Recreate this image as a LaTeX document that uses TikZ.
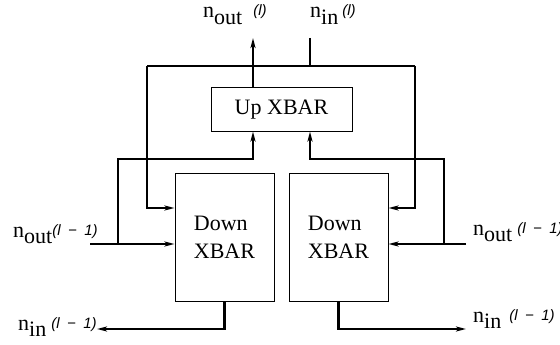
\documentclass[tikz,border=0pt]{standalone}
\usepackage{fontspec}
\setmainfont{Liberation Serif}
\newfontfamily\supfont{Liberation Sans}
\usetikzlibrary{arrows.meta,positioning,calc}
\newcommand{\nlab}[3]{n\raisebox{-6.5pt}{#1}\hspace{#3}\raisebox{2pt}{\fontsize{15}{15}\supfont\itshape #2}}
\tikzset{
  >={Stealth[length=10pt,width=5pt,inset=2.5pt]},
  font=\fontsize{22}{28}\selectfont,
  xbar/.style  ={draw, line width=1pt, inner sep=0pt, align=left},
  upbox/.style ={xbar, minimum width=141pt, minimum height=43pt},
  dnbox/.style ={xbar, minimum width=99pt, minimum height=128pt},
  wire/.style  ={line width=2.8pt},
  awire/.style ={wire, ->},
  lab/.style   ={anchor=base west, inner sep=0pt},
}
\begin{document}
\begin{tikzpicture}[x=1pt,y=-1pt]
  \useasboundingbox (0,0) rectangle (560,345);
  \node[upbox] (up) at (281.5,109.5) {Up XBAR};
  \node[dnbox] (dl) at (224.5,237) {Down\\XBAR};
  \node[dnbox] (dr) at (338.5,237) {Down\\XBAR};
  % free ends and corners of the wires
  \coordinate (outtop) at (253,38);
  \coordinate (intop) at (310,38);
  \coordinate (busL) at (147,66);
  \coordinate (busR) at (415,66);
  \coordinate (feedL) at (118,159);
  \coordinate (feedR) at (444,159);
  \coordinate (outL) at (90,244);
  \coordinate (outR) at (466,244);
  \coordinate (inL) at (97,329);
  \coordinate (inR) at (466,329);
  % labels
  \node[lab] (louttop) at (203,18) {\nlab{out}{(l)}{11pt}};
  \node[lab] (lintop) at (310,18) {\nlab{in}{(l)}{4pt}};
  \node[lab] (loutL) at (13,237) {\nlab{out}{(l\enspace−\enspace1)}{0pt}};
  \node[lab] (loutR) at (473,235) {\nlab{out}{(l\enspace−\enspace1)}{5pt}};
  \node[lab] (linL) at (18,330) {\nlab{in}{(l\enspace−\enspace1)}{5pt}};
  \node[lab] (linR) at (473,322) {\nlab{in}{(l\enspace−\enspace1)}{8pt}};
  % wires
  \draw[awire] (up.north -| outtop) -- (outtop);
  \draw[wire] (intop) -- (intop |- busL);
  \draw[wire] (busL) -- (busR);
  \draw[awire] (busL) |- ([yshift=29pt]dl.west);
  \draw[awire] (busR) |- ([yshift=29pt]dr.east);
  \draw[awire] (outL) -- ([yshift=-7pt]dl.west);
  \draw[awire] (outR) -- ([yshift=-7pt]dr.east);
  \draw[awire] (outL -| feedL) -- (feedL) -| (up.south -| outtop);
  \draw[awire] (outR -| feedR) -- (feedR) -| (up.south -| intop);
  \draw[awire] (dl.south) |- (inL);
  \draw[awire] (dr.south) |- (inR);
\end{tikzpicture}
\end{document}
